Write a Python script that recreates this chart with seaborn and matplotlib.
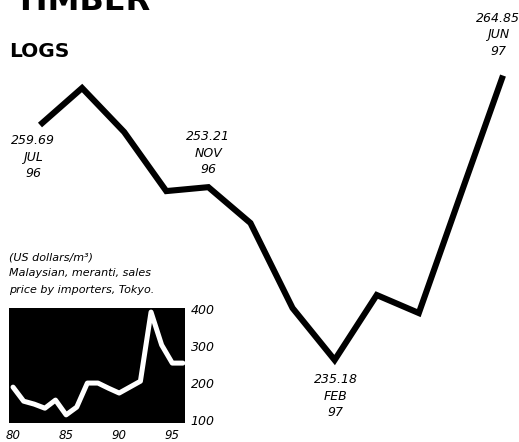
import matplotlib
matplotlib.use("Agg")
import matplotlib.pyplot as plt
import seaborn as sns

# Logs price, monthly Jul 96 - Jun 97
months = ["JUL\n96", "AUG\n96", "SEP\n96", "OCT\n96", "NOV\n96", "DEC\n96",
          "JAN\n97", "FEB\n97", "MAR\n97", "APR\n97", "MAY\n97", "JUN\n97"]
logs_price = [259.69, 263.55, 258.96, 252.8, 253.21, 249.47,
              240.6, 235.18, 241.96, 240.08, 252.5, 264.85]
labelled = [0, 4, 7, 11]

# Inset: yearly price 1980-1996 (US dollars/m3)
years = list(range(1980, 1997))
yearly_price = [189, 151, 143, 132, 154, 114, 135, 200, 200, 186,
                173, 189, 205, 392, 303, 254, 254]
inset_xticks = [1980, 1985, 1990, 1995]
inset_xlabels = ["80", "85", "90", "95"]
inset_yticks = [100, 200, 300, 400]

sns.set_style("white")
plt.rcParams['font.family'] = ['DejaVu Sans']
plt.rcParams['text.color'] = 'black'
plt.rcParams['xtick.color'] = 'black'
plt.rcParams['ytick.color'] = 'black'

W, H = 519, 442
fig = plt.figure(figsize=(W / 100, H / 100), dpi=100)

# main chart, no axes
ax = fig.add_axes([0, 0, 1, 1])
x_idx = list(range(len(logs_price)))
sns.lineplot(x=x_idx, y=logs_price, ax=ax, color="black", linewidth=4.4)
for line in ax.get_lines():
    line.set_solid_joinstyle("miter")
    line.set_solid_capstyle("butt")
ax.set_xlim(-0.95, 11.38)
ax.set_ylim(226.63, 272.73)
ax.axis("off")

# value labels
offsets = {0: (-7, -9, "top"), 4: (0, 11, "bottom"),
           7: (1, -13, "top"), 11: (-5, 18, "bottom")}
for i in labelled:
    dx, dy, va = offsets[i]
    ax.annotate(f"{logs_price[i]:.2f}\n{months[i]}", (i, logs_price[i]),
                xytext=(dx, dy), textcoords="offset pixels",
                ha="center", va=va, fontsize=9, style="italic",
                linespacing=1.35, color="black")

# titles
fig.text(15 / W, 1 - 10 / H, "TIMBER", fontsize=23, weight="bold",
         va="baseline", ha="left")
fig.text(9 / W, 1 - 57 / H, "LOGS", fontsize=14.5, weight="bold",
         va="baseline", ha="left")

# inset notes
fig.text(9 / W, 1 - 258 / H, "(US dollars/m³)", fontsize=8, style="italic", va="center")
fig.text(9 / W, 1 - 273 / H, "Malaysian, meranti, sales", fontsize=8, style="italic", va="center")
fig.text(9 / W, 1 - 290 / H, "price by importers, Tokyo.", fontsize=8, style="italic", va="center")

# inset chart
ins = fig.add_axes([9 / W, 1 - 423 / H, 176 / W, 115 / H])
ins.set_facecolor("black")
sns.lineplot(x=years, y=yearly_price, ax=ins, color="white", linewidth=3.6)
ins.set_xlim(1979.62, 1996.2)
ins.set_ylim(92, 403)
ins.set_xticks(inset_xticks)
ins.set_xticklabels(inset_xlabels, style="italic", fontsize=8.5)
ins.yaxis.tick_right()
ins.set_yticks(inset_yticks)
ins.set_yticklabels([str(v) for v in inset_yticks], style="italic", fontsize=9)
ins.tick_params(axis="x", length=0, pad=4)
ins.tick_params(axis="y", length=0, pad=4)
ins.set_xlabel("")
ins.set_ylabel("")
for s in ins.spines.values():
    s.set_visible(False)

fig.savefig("out.png", dpi=100)
